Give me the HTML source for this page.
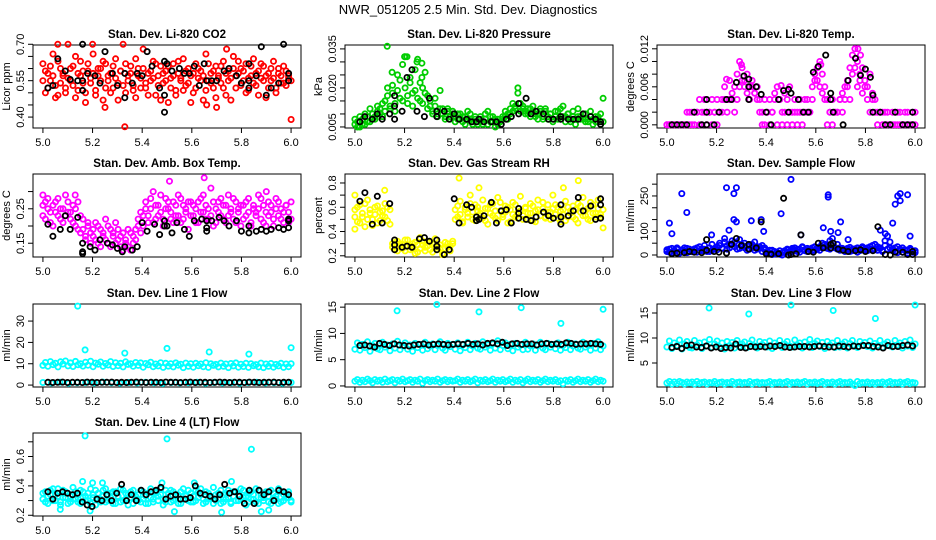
<!DOCTYPE html>
<html><head><meta charset="utf-8"><title>NWR_051205 2.5 Min. Std. Dev. Diagnostics</title>
<style>
html,body{margin:0;padding:0;background:#fff;}
svg{display:block;font-family:"Liberation Sans",Arial,sans-serif;}
</style></head>
<body>
<svg id="fig" width="936" height="540" viewBox="0 0 936 540">
<text x="468" y="14" text-anchor="middle" font-size="13">NWR_051205  2.5 Min. Std. Dev. Diagnostics</text>
</svg>
<script>
// ---------- data ----------
const xTicks=[5.0,5.2,5.4,5.6,5.8,6.0];
const xTickLabels=["5.0","5.2","5.4","5.6","5.8","6.0"];

// P1 CO2
const co2Main=[0.62,0.50,0.58,0.55,0.66,0.53,0.49,0.60,0.57,0.52,0.70,0.55,0.61,0.48,0.58,0.63,0.54,0.50,0.59,0.56,0.66,0.51,0.57,0.60,0.47,0.62,0.55,0.58,0.52,0.64,0.54,0.59,0.70,0.50,0.57,0.61,0.53,0.48,0.60,0.56,0.68,0.52,0.58,0.55,0.63,0.49,0.57,0.61,0.54,0.59,0.46,0.56,0.62,0.51,0.58,0.55,0.64,0.53,0.60,0.57,0.50,0.62,0.56,0.59,0.47,0.66,0.55,0.58,0.52,0.61,0.57,0.54,0.63,0.49,0.59,0.56,0.65,0.52,0.58,0.60,0.55,0.62,0.51,0.57,0.64,0.53,0.59,0.56,0.61,0.48,0.58,0.55,0.63,0.52,0.60,0.57,0.54,0.59,0.56,0.39];
const co2Main2=[0.55,0.59,0.52,0.61,0.57,0.48,0.63,0.54,0.58,0.50,0.56,0.60,0.53,0.65,0.51,0.57,0.59,0.46,0.62,0.54,0.58,0.49,0.60,0.55,0.63,0.52,0.57,0.50,0.61,0.56,0.47,0.59,0.53,0.62,0.55,0.58,0.51,0.64,0.57,0.52,0.60,0.54,0.49,0.59,0.56,0.62,0.53,0.47,0.58,0.55,0.61,0.52,0.57,0.49,0.63,0.56,0.51,0.59,0.54,0.46,0.58,0.52,0.60,0.55,0.57,0.51,0.62,0.54,0.59,0.48,0.56,0.61,0.52,0.58,0.55,0.47,0.60,0.57,0.63,0.53,0.59,0.50,0.56,0.61,0.54,0.58,0.49,0.62,0.55,0.57,0.52,0.60,0.56,0.50,0.58,0.54,0.61,0.53,0.57,0.55];
const co2Out=[[5.33,0.36],[5.70,0.44],[5.66,0.45],[5.25,0.44],[5.20,0.70],[5.06,0.70],[5.74,0.68]];
const co2BlackX=[5.02,5.04,5.06,5.09,5.11,5.14,5.16,5.16,5.16,5.18,5.21,5.23,5.25,5.28,5.30,5.33,5.33,5.36,5.38,5.40,5.42,5.44,5.47,5.49,5.49,5.50,5.52,5.55,5.57,5.59,5.61,5.63,5.65,5.66,5.68,5.70,5.73,5.75,5.78,5.80,5.83,5.83,5.83,5.86,5.88,5.90,5.92,5.95,5.97,5.99,5.99,5.49];
const co2BlackY=[0.52,0.53,0.64,0.59,0.555,0.55,0.55,0.51,0.70,0.58,0.57,0.54,0.67,0.58,0.53,0.58,0.48,0.54,0.58,0.57,0.67,0.61,0.52,0.49,0.63,0.62,0.59,0.60,0.58,0.58,0.61,0.53,0.62,0.55,0.55,0.55,0.59,0.60,0.57,0.54,0.62,0.55,0.52,0.57,0.69,0.49,0.52,0.54,0.70,0.58,0.55,0.42];

// P2 pressure
const presMain=[.006,.007,.005,.008,.006,.009,.007,.010,.008,.011,.012,.009,.015,.020,.013,.018,.011,.025,.016,.029,.032,.014,.022,.018,.027,.031,.015,.020,.026,.017,.013,.011,.016,.010,.019,.012,.009,.011,.008,.010,.009,.008,.010,.007,.009,.011,.008,.007,.009,.006,.008,.007,.010,.006,.009,.007,.008,.006,.007,.008,.009,.010,.012,.011,.013,.018,.014,.012,.011,.010,.012,.011,.009,.010,.012,.008,.011,.009,.010,.008,.009,.011,.008,.013,.009,.010,.007,.009,.008,.012,.009,.008,.010,.007,.009,.008,.007,.009,.006,.016];
const presMain2=[.008,.005,.009,.006,.010,.007,.012,.008,.009,.013,.010,.014,.011,.017,.012,.021,.014,.019,.023,.015,.020,.017,.024,.013,.019,.016,.022,.014,.018,.012,.015,.010,.013,.009,.012,.010,.008,.012,.009,.011,.007,.010,.008,.009,.006,.008,.010,.006,.008,.007,.009,.006,.008,.011,.007,.009,.005,.008,.007,.009,.011,.008,.010,.014,.012,.020,.011,.013,.010,.012,.009,.013,.010,.008,.011,.009,.012,.008,.010,.007,.011,.008,.012,.009,.007,.010,.008,.011,.006,.009,.008,.010,.007,.008,.011,.006,.009,.008,.010,.007];
const presOut=[[5.13,0.036],[5.21,0.032],[5.20,0.032],[5.25,0.030],[5.27,0.0295],[5.15,0.026],[5.27,0.024]];
const presBlackX=[5.02,5.04,5.07,5.09,5.11,5.14,5.16,5.16,5.16,5.19,5.21,5.23,5.25,5.28,5.30,5.33,5.33,5.36,5.38,5.40,5.42,5.45,5.47,5.49,5.50,5.52,5.55,5.57,5.59,5.61,5.63,5.66,5.66,5.69,5.71,5.73,5.76,5.78,5.80,5.83,5.83,5.86,5.88,5.90,5.92,5.95,5.97,5.99,5.99];
const presBlackY=[.007,.009,.008,.010,.008,.010,.008,.017,.013,.011,.024,.027,.011,.009,.016,.009,.011,.011,.008,.010,.008,.008,.007,.007,.008,.007,.007,.007,.006,.008,.009,.014,.010,.016,.010,.011,.010,.008,.008,.009,.008,.008,.008,.008,.010,.009,.008,.007,.006];

// P3 Li-820 temp
const tempMain=[0,0,0,0,0,0,0,0,0,0,.002,.002,.002,.004,.002,.004,.002,.002,.004,.002,.004,.002,.004,.006,.004,.007,.005,.006,.008,.010,.009,.007,.008,.006,.007,.005,.006,.004,.002,.004,.002,.004,.002,.005,.006,.004,.002,.005,.004,.006,.002,.004,.002,.004,.002,.004,.002,.002,.004,.007,.009,.010,.008,.006,.004,.002,.004,.002,.002,.004,.005,.006,.007,.009,.011,.012,.010,.008,.009,.007,.006,.008,.005,.004,.002,.002,.002,0,0,0,.002,0,.002,0,0,0,.002,0,0,.002];
const tempMain2=[0,0,0,0,0,0,0,0,.002,.002,0,0,.002,0,0,.002,0,.002,0,.002,0,.002,.002,.004,.002,.004,.004,.002,.004,.006,.007,.006,.005,.004,.006,.005,.004,.002,0,0,.002,0,.002,.004,0,.004,0,.002,0,.002,0,.002,0,.002,0,.002,.004,.002,.006,.008,.007,.006,.005,.004,0,.002,0,.002,.002,.004,.002,.004,.006,.004,.008,.009,.006,.007,.005,.006,.004,.002,.004,.002,0,.002,0,.002,.002,0,0,.002,0,.002,0,.002,0,0,.002,0];
const tempOut=[[5.30,0.0095],[5.62,0.0095],[5.77,0.012],[5.78,0.011],[5.24,0.0072],[5.46,0.0062]];
const tempBlackX=[5.02,5.04,5.06,5.08,5.11,5.14,5.16,5.16,5.16,5.19,5.21,5.24,5.26,5.28,5.31,5.33,5.33,5.33,5.36,5.38,5.40,5.42,5.45,5.47,5.49,5.49,5.50,5.53,5.55,5.57,5.59,5.61,5.64,5.66,5.66,5.67,5.71,5.73,5.76,5.78,5.80,5.82,5.83,5.83,5.86,5.88,5.90,5.92,5.95,5.97,5.99,5.99];
const tempBlackY=[0,0,0,0,.002,0,.002,.004,0,0,.002,.004,.004,.0067,.0077,.0072,.006,.004,.006,.0048,.002,0,.004,.0054,.0056,.002,.005,.004,.002,.002,.0083,.0092,.011,.005,.004,.002,0,.007,.0105,.0078,.0088,.0075,.0047,.002,.002,0,0,.002,0,0,.002,0];

// P4 amb box temp
const ambMain=[.26,.22,.28,.24,.20,.27,.23,.25,.21,.29,.24,.22,.26,.20,.27,.23,.19,.17,.21,.15,.19,.16,.20,.14,.18,.22,.15,.19,.17,.21,.16,.14,.18,.15,.19,.13,.17,.16,.20,.18,.23,.27,.21,.25,.30,.22,.26,.24,.20,.28,.25,.22,.27,.23,.29,.21,.26,.24,.19,.27,.23,.25,.21,.28,.24,.26,.22,.31,.20,.25,.27,.23,.26,.21,.29,.24,.22,.27,.25,.20,.26,.23,.28,.21,.25,.24,.29,.22,.26,.20,.27,.24,.22,.28,.23,.25,.21,.26,.24,.22];
const ambMain2=[.23,.27,.25,.21,.26,.24,.28,.22,.25,.23,.27,.24,.21,.25,.19,.18,.22,.16,.20,.18,.17,.21,.15,.19,.17,.16,.20,.14,.18,.15,.19,.17,.13,.16,.14,.18,.15,.19,.22,.24,.20,.25,.23,.28,.21,.26,.23,.29,.22,.25,.27,.24,.21,.26,.23,.28,.22,.25,.27,.23,.26,.21,.27,.24,.29,.22,.25,.23,.27,.21,.24,.28,.22,.26,.23,.25,.28,.21,.24,.26,.22,.27,.24,.20,.26,.23,.25,.28,.21,.24,.23,.26,.20,.25,.27,.22,.24,.26,.21,.27];
const ambOut=[[5.51,0.33],[5.65,0.34],[5.90,0.30],[5.13,0.29],[5.00,0.29]];
const ambBlackX=[5.02,5.04,5.07,5.09,5.11,5.14,5.16,5.16,5.16,5.19,5.21,5.23,5.26,5.28,5.30,5.32,5.33,5.36,5.38,5.40,5.42,5.45,5.47,5.49,5.49,5.50,5.52,5.54,5.57,5.59,5.61,5.64,5.66,5.66,5.66,5.68,5.71,5.73,5.75,5.78,5.80,5.83,5.83,5.86,5.88,5.90,5.92,5.95,5.97,5.99,5.99,5.99];
const ambBlackY=[.205,.17,.19,.23,.19,.225,.15,.125,.12,.14,.13,.16,.15,.145,.135,.125,.14,.13,.14,.21,.185,.205,.175,.20,.215,.20,.18,.21,.19,.17,.215,.22,.215,.195,.185,.215,.225,.215,.20,.215,.185,.18,.20,.185,.19,.185,.19,.195,.19,.195,.22,.215];

// P5 gas stream RH
const rhMain=[.58,.48,.62,.52,.44,.66,.55,.50,.60,.47,.56,.53,.63,.49,.58,.30,.25,.32,.27,.29,.24,.33,.28,.26,.31,.23,.35,.29,.27,.32,.25,.30,.34,.28,.26,.22,.31,.27,.24,.30,.58,.52,.65,.48,.60,.55,.70,.50,.62,.57,.53,.66,.49,.59,.55,.63,.51,.68,.57,.54,.61,.47,.58,.64,.52,.56,.69,.50,.60,.55,.63,.49,.57,.66,.53,.59,.51,.62,.56,.70,.54,.60,.48,.58,.65,.52,.57,.61,.50,.63,.56,.68,.53,.59,.49,.62,.55,.66,.52,.58];
const rhMain2=[.52,.60,.47,.55,.63,.50,.58,.45,.54,.61,.49,.57,.52,.60,.46,.27,.31,.24,.30,.26,.33,.28,.25,.30,.22,.29,.26,.32,.24,.28,.31,.23,.27,.25,.29,.21,.26,.30,.28,.32,.50,.61,.54,.47,.58,.52,.63,.56,.49,.60,.55,.51,.59,.46,.62,.53,.57,.49,.64,.52,.56,.60,.48,.54,.62,.51,.57,.53,.59,.50,.55,.61,.48,.58,.53,.64,.52,.56,.50,.59,.62,.51,.57,.54,.49,.60,.55,.52,.58,.47,.61,.53,.57,.50,.64,.55,.52,.59,.54,.43];
const rhOut=[[5.42,0.84],[5.90,0.82],[5.50,0.76],[5.84,0.76],[5.00,0.70],[5.12,0.74],[5.00,0.42]];
const rhBlackX=[5.02,5.04,5.07,5.09,5.11,5.14,5.16,5.16,5.16,5.19,5.21,5.23,5.26,5.28,5.30,5.33,5.33,5.33,5.36,5.38,5.40,5.42,5.45,5.47,5.49,5.49,5.50,5.52,5.55,5.57,5.59,5.61,5.63,5.66,5.66,5.66,5.69,5.71,5.73,5.76,5.78,5.80,5.83,5.83,5.83,5.86,5.88,5.90,5.92,5.95,5.97,5.99,5.99,5.99];
const rhBlackY=[.65,.72,.46,.69,.47,.63,.29,.25,.33,.27,.28,.27,.34,.35,.32,.33,.28,.25,.21,.25,.67,.47,.62,.60,.49,.52,.50,.53,.64,.47,.57,.58,.47,.55,.59,.51,.50,.49,.52,.56,.53,.51,.52,.62,.46,.53,.57,.68,.57,.61,.50,.67,.62,.51];

// P6 sample flow
const sfMain=[15,25,10,20,30,12,22,18,28,14,20,26,12,35,18,24,15,30,20,28,22,40,30,55,25,45,60,35,50,28,42,30,38,25,45,20,35,28,40,22,15,8,20,5,12,3,10,18,25,15,20,30,15,25,35,18,28,22,30,20,25,35,30,45,28,60,40,32,25,30,22,18,28,15,25,20,30,18,35,25,30,22,40,25,35,28,20,60,80,30,25,15,35,20,30,22,18,28,15,10];
const sfMain2=[22,12,28,16,24,8,20,30,10,25,14,22,30,18,26,40,20,15,45,25,35,50,28,70,40,30,45,55,25,65,35,50,20,40,30,55,25,35,15,30,10,20,2,15,6,18,0,12,22,8,28,18,24,12,32,22,15,26,18,35,30,20,50,35,40,25,70,30,45,20,28,15,22,32,18,26,12,24,30,20,18,35,25,45,20,30,15,40,25,55,18,30,10,25,12,20,8,22,12,18];
const sfOut=[[5.01,135],[5.02,90],[5.06,260],[5.08,180],[5.24,285],[5.28,285],[5.27,260],[5.27,150],[5.28,140],[5.25,105],[5.34,145],[5.38,150],[5.39,100],[5.46,175],[5.50,320],[5.63,115],[5.65,255],[5.65,245],[5.66,100],[5.69,95],[5.70,140],[5.73,65],[5.86,105],[5.91,135],[5.92,215],[5.93,250],[5.94,230],[5.94,260],[5.97,255],[5.98,80],[5.88,90],[5.18,85],[5.54,85]];
const sfBlackX=[5.02,5.04,5.07,5.09,5.11,5.14,5.16,5.16,5.19,5.21,5.24,5.26,5.28,5.30,5.33,5.33,5.36,5.38,5.40,5.42,5.45,5.47,5.49,5.50,5.52,5.54,5.57,5.59,5.61,5.63,5.66,5.66,5.67,5.69,5.71,5.73,5.76,5.78,5.80,5.83,5.85,5.88,5.90,5.92,5.95,5.97,5.99,5.99];
const sfBlackY=[5,8,10,15,12,10,20,65,15,12,8,45,70,40,45,25,30,140,5,3,5,240,0,2,5,85,15,12,50,30,45,30,50,25,20,15,18,22,15,18,120,2,0,12,12,2,15,2];

// P7 line 1 flow
const l1Main=[9.2,10.6,8.8,11.0,9.6,10.2,8.5,10.9,9.9,11.3,9.0,10.4,8.7,11.1,9.5,10.0,8.9,10.7,9.3,11.2,8.6,10.3,9.8,10.8,8.8,10.1,9.4,11.0,8.7,10.5,9.1,10.2,8.5,10.9,9.7,10.0,8.8,10.6,9.2,10.4,8.4,10.1,9.5,10.7,8.6,9.9,9.0,10.5,8.3,10.2,8.9,10.0,8.5,10.4,9.3,9.8,8.2,10.3,8.8,10.0,8.4,10.2,9.1,9.9,8.6,10.5,8.3,10.0,9.2,9.7,8.5,10.3,8.8,9.9,8.2,10.1,9.0,10.4,8.4,9.8,8.7,10.2,8.3,10.0,9.1,9.6,8.5,10.3,8.2,9.9,8.8,10.1,8.4,9.7,9.0,10.2,8.3,9.9,8.6,10.0];
const l1Low=[1.2,1.0,1.3,0.9,1.1,1.2,1.0,1.4,1.1,0.9,1.2,1.0,1.3,1.1,0.8,1.2,1.0,1.1,1.3,0.9,1.2,1.0,1.1,0.9,1.2,1.3,1.0,1.1,0.9,1.2];
const l1Out=[[5.14,37],[5.17,16.5],[5.33,15],[5.50,17.2],[5.67,15.5],[5.83,14.5],[6.00,17.5]];
const l1Black=[1.3,1.2,1.3,1.4,1.2,1.3,1.3,1.2,1.4,1.3,1.2,1.3,1.3,1.4,1.2,1.3,1.2,1.3,1.4,1.3,1.2,1.3,1.3,1.2,1.4,1.3,1.3,1.2,1.3,1.4,1.2,1.3,1.3,1.2,1.3,1.4,1.3,1.2,1.3,1.3,1.2,1.4,1.3,1.2,1.3,1.3,1.4,1.2,1.3,1.3];

// P8 line 2 flow
const l2Main=[7.0,8.2,6.8,7.9,7.3,8.4,6.6,7.7,8.1,7.1,6.9,8.3,7.4,7.8,6.7,8.0,7.2,8.5,6.9,7.6,8.2,7.0,7.8,6.6,8.1,7.3,7.9,6.8,8.3,7.1,7.6,8.0,6.9,7.7,8.4,7.2,6.8,8.1,7.5,7.9,7.0,8.2,6.7,7.8,7.3,8.3,6.9,7.6,8.1,7.2,7.0,8.4,7.4,7.8,6.8,8.0,7.2,8.6,6.9,7.7,8.2,7.1,7.9,6.7,8.1,7.4,7.8,6.9,8.3,7.0,7.6,8.0,6.8,7.7,8.3,7.2,6.9,8.1,7.4,7.9,7.1,8.2,6.8,7.7,7.3,8.3,6.9,7.6,8.0,7.2,7.0,8.3,7.4,7.8,6.8,8.1,7.2,8.4,6.9,7.6];
const l2Low=[0.9,1.2,0.7,1.1,0.8,1.3,1.0,0.6,1.2,0.9,1.1,0.7,1.3,0.8,1.0,1.2,0.6,1.1,0.9,1.3,0.8,1.0,1.2,0.7,1.1,0.9,1.3,0.5,1.0,1.2,0.8,1.1,0.9,1.3,0.7,1.0,1.2,0.8,1.1,0.9,1.0,1.3,0.7,1.1,0.9,1.2,0.8,1.0,1.3,0.6,1.1,0.9,1.2,0.8,1.0,1.3,0.7,1.1,0.9,1.2,0.8,1.0,1.3,0.7,1.1,0.9,1.2,0.6,1.0,1.3,0.8,1.1,0.9,1.2,0.7,1.0,1.3,0.8,1.1,0.9,1.2,0.8,1.0,0.4,1.1,0.9,1.2,0.7,1.0,1.3,0.8,1.1,0.9,1.2,0.7,1.0,1.3,0.8,1.1,0.9];
const l2Out=[[5.17,14.3],[5.33,15.5],[5.50,14.1],[5.67,14.9],[5.83,11.9],[6.00,14.6]];
const l2Black=[7.7,7.8,7.6,7.4,8.1,7.9,7.7,8.0,7.8,7.7,7.6,7.8,7.9,8.0,7.8,7.9,8.0,7.9,7.8,7.9,8.0,7.9,8.1,7.9,8.0,7.8,8.1,8.2,8.0,8.3,7.7,8.0,8.1,7.9,8.0,8.0,7.8,8.0,8.1,7.9,8.0,7.9,8.2,8.1,7.9,8.0,8.0,8.1,8.0,7.9];

// P9 line 3 flow
const l3Main=[8.2,9.4,7.9,9.0,8.5,9.6,7.8,8.8,9.3,8.1,8.0,9.5,8.6,9.0,7.9,9.2,8.4,9.7,8.1,8.8,9.4,8.2,9.0,7.8,9.3,8.5,9.1,8.0,9.5,8.3,8.8,9.2,8.1,8.9,9.6,8.4,8.0,9.3,8.7,9.1,8.2,9.4,7.9,9.0,8.5,9.5,8.1,8.8,9.3,8.4,8.2,9.6,8.6,9.0,8.0,9.2,8.4,9.7,8.1,8.9,9.4,8.3,9.1,7.9,9.3,8.6,9.0,8.1,9.5,8.2,8.8,9.2,8.0,8.9,9.5,8.4,8.1,9.3,8.6,9.1,8.3,9.4,8.0,8.9,8.5,9.5,8.1,8.8,9.2,8.4,8.2,9.5,8.6,9.0,8.0,9.3,8.4,9.6,8.1,8.8];
const l3Low=[1.0,1.3,0.8,1.2,0.9,1.3,1.1,0.8,1.2,1.0,1.2,0.8,1.3,0.9,1.1,1.2,0.8,1.1,1.0,1.3,0.9,1.1,1.2,0.8,1.1,1.0,1.3,0.8,1.1,1.2,0.9,1.1,1.0,1.3,0.8,1.1,1.2,0.9,1.1,1.0,1.1,1.3,0.8,1.1,1.0,1.2,0.9,1.1,1.3,0.8,1.1,1.0,1.2,0.9,1.1,1.3,0.8,1.1,1.0,1.2,0.9,1.1,1.3,0.8,1.1,1.0,1.2,0.8,1.1,1.3,0.9,1.1,1.0,1.2,0.8,0.5,1.3,0.9,1.1,1.0,1.2,0.9,1.1,0.8,1.1,1.0,1.2,0.8,1.1,1.3,0.9,1.1,1.0,1.2,0.8,1.1,1.3,0.9,1.1,1.0];
const l3Out=[[5.17,16.0],[5.33,14.8],[5.50,16.6],[5.67,15.5],[5.84,13.9],[6.00,16.6]];
const l3Black=[8.1,8.3,7.9,8.5,8.6,8.2,8.1,8.4,8.0,8.2,7.9,8.1,8.0,8.8,8.1,8.0,8.3,8.2,8.3,8.2,8.4,8.3,8.5,8.2,8.1,8.2,8.3,8.3,8.2,8.3,8.4,8.3,8.2,8.2,8.4,8.3,8.2,8.4,8.3,8.5,8.5,8.3,8.2,8.0,8.5,8.3,8.3,8.5,8.6,8.4];

// P10 line 4 (LT) flow
const l4Main=[0.31,0.36,0.28,0.34,0.38,0.30,0.33,0.27,0.37,0.32,0.35,0.29,0.39,0.31,0.34,0.28,0.36,0.33,0.30,0.38,0.32,0.27,0.35,0.31,0.37,0.29,0.34,0.32,0.36,0.28,0.33,0.38,0.30,0.35,0.27,0.32,0.37,0.31,0.34,0.29,0.36,0.33,0.28,0.38,0.31,0.35,0.30,0.34,0.27,0.37,0.32,0.29,0.36,0.31,0.34,0.28,0.38,0.33,0.30,0.35,0.29,0.37,0.32,0.34,0.28,0.36,0.31,0.33,0.39,0.30,0.35,0.28,0.34,0.31,0.37,0.29,0.33,0.36,0.30,0.38,0.32,0.27,0.35,0.31,0.34,0.29,0.37,0.32,0.30,0.36,0.33,0.28,0.35,0.31,0.38,0.29,0.34,0.32,0.36,0.30];
const l4Main2=[0.35,0.29,0.33,0.37,0.30,0.34,0.38,0.29,0.32,0.36,0.28,0.33,0.31,0.36,0.29,0.37,0.32,0.30,0.35,0.28,0.34,0.37,0.31,0.29,0.33,0.38,0.30,0.35,0.28,0.36,0.32,0.29,0.37,0.31,0.34,0.36,0.28,0.33,0.30,0.37,0.31,0.28,0.35,0.32,0.29,0.36,0.33,0.38,0.31,0.29,0.35,0.37,0.30,0.33,0.28,0.36,0.31,0.34,0.37,0.29,0.33,0.30,0.36,0.38,0.31,0.29,0.35,0.32,0.28,0.34,0.31,0.37,0.29,0.35,0.32,0.28,0.36,0.30,0.34,0.31,0.37,0.33,0.29,0.36,0.31,0.38,0.28,0.34,0.32,0.35,0.29,0.37,0.31,0.33,0.28,0.36,0.30,0.35,0.32,0.29];
const l4Out=[[5.17,0.74],[5.50,0.72],[5.84,0.65],[5.53,0.225],[5.72,0.22],[5.88,0.225],[5.16,0.43],[5.20,0.42],[5.24,0.42],[5.48,0.42],[5.61,0.42],[5.76,0.43],[5.19,0.23],[5.91,0.235],[5.07,0.24]];
const l4Black=[0.36,0.31,0.35,0.36,0.35,0.34,0.35,0.29,0.27,0.26,0.31,0.30,0.34,0.30,0.35,0.41,0.30,0.34,0.30,0.37,0.34,0.36,0.37,0.39,0.31,0.33,0.34,0.31,0.31,0.32,0.40,0.35,0.34,0.33,0.31,0.34,0.41,0.35,0.36,0.33,0.28,0.37,0.28,0.37,0.34,0.36,0.30,0.37,0.36,0.34];

// ---------- drawing ----------
const NS="http://www.w3.org/2000/svg";
const svg=document.getElementById('fig');
const X0=4.96,X1=6.04;
const colL=[33,345,657], PW=268, rowT=[45,174,304,433], PH=83;

function mk(tag,attrs,parent){const e=document.createElementNS(NS,tag);for(const k in attrs)e.setAttribute(k,attrs[k]);(parent||svg).appendChild(e);return e;}

function panel(name,col,row,title,ylab,y0,y1,yTicks,yLabels){
  const L=colL[col],T=rowT[row];
  const g=mk('g',{});
  
  
  const sx=v=>L+(v-X0)/(X1-X0)*PW;
  const sy=v=>T+PH-(v-y0)/(y1-y0)*PH;
  const box=mk('rect',{x:L,y:T,width:PW,height:PH,fill:'none',stroke:'#000','stroke-width':1},g);
  
  
  const t=mk('text',{x:L+PW/2,y:T-7,'text-anchor':'middle','font-size':11.5,'font-weight':'bold'},g);
  t.textContent=title;
  
  
  const xa=mk('g',{},g);
  
  
  mk('line',{x1:sx(xTicks[0]),x2:sx(xTicks[xTicks.length-1]),y1:T+PH,y2:T+PH,stroke:'#000'},xa);
  xTicks.forEach((v,i)=>{
    mk('line',{x1:sx(v),x2:sx(v),y1:T+PH,y2:T+PH+5,stroke:'#000'},xa);
    const tl=mk('text',{x:sx(v),y:T+PH+18,'text-anchor':'middle','font-size':11},xa);
    tl.textContent=xTickLabels[i];
    
    
  });
  const ya=mk('g',{},g);
  
  
  mk('line',{x1:L,x2:L,y1:sy(yTicks[0]),y2:sy(yTicks[yTicks.length-1]),stroke:'#000'},ya);
  yTicks.forEach(v=>{mk('line',{x1:L-5,x2:L,y1:sy(v),y2:sy(v),stroke:'#000'},ya);});
  yLabels.forEach(v=>{
    const yy=sy(v);
    const tl=mk('text',{x:L-9,y:yy,'text-anchor':'middle','font-size':11,transform:`rotate(-90 ${L-9} ${yy})`},ya);
    tl.textContent=String(v.toFixed(typeof yLabels.dec==='number'?yLabels.dec:0));
    
    
  });
  const yl=mk('text',{x:L-23,y:T+PH/2,'text-anchor':'middle','font-size':11,transform:`rotate(-90 ${L-23} ${T+PH/2})`},g);
  yl.textContent=ylab;
  
  
  const pg=mk('g',{},g);
  return {g:pg,sx,sy};
}
function dot(P,x,y,color,nm){
  const c=mk('circle',{cx:P.sx(x).toFixed(1),cy:P.sy(y).toFixed(1),r:2.6,fill:'none',stroke:color,'stroke-width':1.8},P.g);
  
  
}
function series(P,vals,color,nm){vals.forEach((v,i)=>dot(P,5+i/(vals.length-1),v,color,nm));}
function seriesRange(P,vals,a,b,color,nm){vals.forEach((v,i)=>dot(P,a+i*(b-a)/(vals.length-1),v,color,nm));}
function pairs(P,arr,color,nm){arr.forEach(p=>dot(P,p[0],p[1],color,nm));}
function xy(P,xs,ys,color,nm){xs.forEach((x,i)=>dot(P,x,ys[i],color,nm));}
function lab(a,d){a.dec=d;return a;}

let P;
P=panel('co2',0,0,'Stan. Dev. Li-820 CO2','Licor ppm',0.355,0.697,[0.40,0.45,0.50,0.55,0.60,0.65,0.70],lab([0.40,0.55,0.70],2));
series(P,co2Main,'#ff0000','co2-point');series(P,co2Main2,'#ff0000','co2-point');pairs(P,co2Out,'#ff0000','co2-point');xy(P,co2BlackX,co2BlackY,'#000','co2-black-point');

P=panel('pressure',1,0,'Stan. Dev. Li-820 Pressure','kPa',0.0046,0.0365,[0.005,0.010,0.015,0.020,0.025,0.030,0.035],lab([0.005,0.020,0.035],3));
series(P,presMain,'#00cd00','pressure-point');series(P,presMain2,'#00cd00','pressure-point');pairs(P,presOut,'#00cd00','pressure-point');xy(P,presBlackX,presBlackY,'#000','pressure-black-point');

P=panel('li820-temp',2,0,'Stan. Dev. Li-820 Temp.','degrees C',-0.0005,0.0126,[0,0.002,0.004,0.006,0.008,0.010,0.012],lab([0,0.006,0.012],3));
series(P,tempMain,'#ff00ff','li820-temp-point');series(P,tempMain2,'#ff00ff','li820-temp-point');pairs(P,tempOut,'#ff00ff','li820-temp-point');xy(P,tempBlackX,tempBlackY,'#000','li820-temp-black-point');

P=panel('amb-box-temp',0,1,'Stan. Dev. Amb. Box Temp.','degrees C',0.11,0.351,[0.15,0.20,0.25,0.30],lab([0.15,0.25],2));
series(P,ambMain,'#ff00ff','amb-temp-point');series(P,ambMain2,'#ff00ff','amb-temp-point');pairs(P,ambOut,'#ff00ff','amb-temp-point');xy(P,ambBlackX,ambBlackY,'#000','amb-temp-black-point');

P=panel('gas-rh',1,1,'Stan. Dev. Gas Stream RH','percent',0.19,0.874,[0.2,0.3,0.4,0.5,0.6,0.7,0.8],lab([0.2,0.4,0.6,0.8],1));
series(P,rhMain,'#ffff00','rh-point');series(P,rhMain2,'#ffff00','rh-point');pairs(P,rhOut,'#ffff00','rh-point');xy(P,rhBlackX,rhBlackY,'#000','rh-black-point');

P=panel('sample-flow',2,1,'Stan. Dev. Sample Flow','ml/min',-8.5,343,[0,50,100,150,200,250,300],lab([0,100,250],0));
series(P,sfMain,'#0000ff','sample-flow-point');series(P,sfMain2,'#0000ff','sample-flow-point');pairs(P,sfOut,'#0000ff','sample-flow-point');xy(P,sfBlackX,sfBlackY,'#000','sample-flow-black-point');

P=panel('line1-flow',0,2,'Stan. Dev. Line 1 Flow','ml/min',-0.9,38,[0,10,20,30],lab([0,10,20,30],0));
series(P,l1Main,'#00ffff','line1-point');series(P,l1Low,'#00ffff','line1-point');pairs(P,l1Out,'#00ffff','line1-point');seriesRange(P,l1Black,5.02,5.99,'#000','line1-black-point');

P=panel('line2-flow',1,2,'Stan. Dev. Line 2 Flow','ml/min',-0.2,15.6,[0,5,10,15],lab([0,5,10,15],0));
series(P,l2Main,'#00ffff','line2-point');series(P,l2Low,'#00ffff','line2-point');pairs(P,l2Out,'#00ffff','line2-point');seriesRange(P,l2Black,5.02,5.99,'#000','line2-black-point');

P=panel('line3-flow',2,2,'Stan. Dev. Line 3 Flow','ml/min',0.2,16.8,[5,10,15],lab([5,10,15],0));
series(P,l3Main,'#00ffff','line3-point');series(P,l3Low,'#00ffff','line3-point');pairs(P,l3Out,'#00ffff','line3-point');seriesRange(P,l3Black,5.02,5.99,'#000','line3-black-point');

P=panel('line4-flow',0,3,'Stan. Dev. Line 4 (LT) Flow','ml/min',0.195,0.76,[0.2,0.3,0.4,0.5,0.6,0.7],lab([0.2,0.4,0.6],1));
series(P,l4Main,'#00ffff','line4-point');series(P,l4Main2,'#00ffff','line4-point');pairs(P,l4Out,'#00ffff','line4-point');seriesRange(P,l4Black,5.02,5.99,'#000','line4-black-point');
</script>
</body></html>
